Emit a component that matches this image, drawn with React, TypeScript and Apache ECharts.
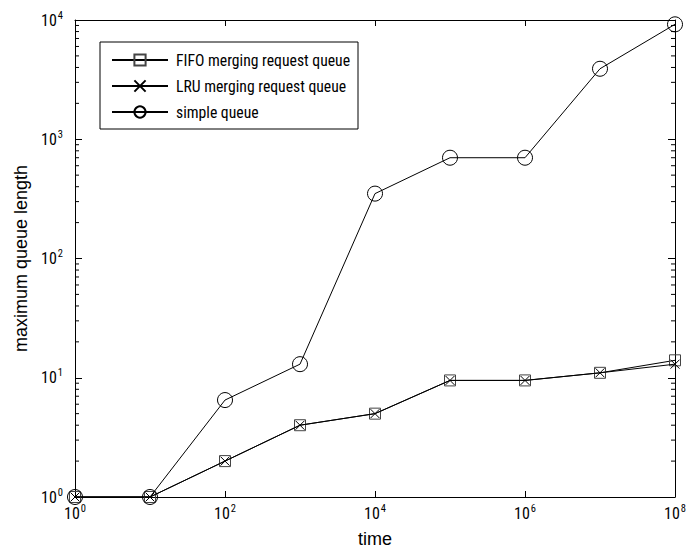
import React, { useEffect, useRef } from "react";
import * as echarts from "echarts";

const timePoints = [1, 10, 100, 1e3, 1e4, 1e5, 1e6, 1e7, 1e8];
const fifoQueue = [1, 1, 2, 4, 5, 9.5, 9.5, 11, 14];
const lruQueue = [1, 1, 2, 4, 5, 9.5, 9.5, 11, 13];
const simpleQueue = [1, 1, 6.5, 13, 350, 700, 700, 3900, 9200];
const seriesNames = ["FIFO merging request queue", "LRU merging request queue", "simple queue"];
const yMinorTicks: number[] = [];
for (let k = 0; k < 4; k++) for (let m = 2; m <= 9; m++) yMinorTicks.push(m * Math.pow(10, k));

const FONT = "'Roboto Condensed', 'Liberation Sans', Arial, sans-serif";
const NAME_FONT = "'Liberation Sans', Arial, sans-serif";

const supFormatter = (v: number) => {
  const e = Math.round(Math.log10(v));
  return `{b|10}{s|${e}}`;
};
const richSup = {
  b: { fontSize: 16, fontFamily: FONT, color: "#000" },
  s: { fontSize: 10.5, fontFamily: FONT, color: "#000", padding: [0, 0, 10, 1] },
};

export default function App() {
  const ref = useRef<HTMLDivElement>(null);
  useEffect(() => {
    const chart = echarts.init(ref.current!, undefined, { renderer: "svg" });
    const pairs = (arr: number[]) => arr.map((v, i) => [timePoints[i], v]);
    const lineStyle = { color: "#000", width: 1 };
    chart.setOption({
      animation: false,
      backgroundColor: "#fff",
      textStyle: { fontFamily: FONT },
      grid: { left: 75, right: 12, top: 20, bottom: 59 },
      legend: {
        data: seriesNames,
        orient: "vertical",
        left: 100,
        top: 42,
        padding: [8, 8, 7, 11],
        itemGap: 6,
        itemWidth: 56,
        itemHeight: 14,
        backgroundColor: "#fff",
        borderColor: "#000",
        borderWidth: 1,
        borderRadius: 0,
        textStyle: { fontSize: 15.7, lineHeight: 20, color: "#000", fontFamily: FONT, padding: [0, 0, 0, 3] },
      },
      xAxis: [
        {
          type: "log",
          logBase: 10,
          min: 1,
          max: 1e8,
          interval: 2,
          name: "time",
          nameLocation: "middle",
          nameGap: 33,
          nameTextStyle: { fontSize: 18, color: "#000", fontFamily: NAME_FONT },
          axisLine: { lineStyle: { color: "#000", width: 1 } },
          axisTick: { inside: true, length: 6, lineStyle: { color: "#000" } },
          axisLabel: { formatter: supFormatter, rich: richSup, margin: 6 },
          splitLine: { show: false },
        },
        {
          type: "log",
          logBase: 10,
          min: 1,
          max: 1e8,
          interval: 2,
          position: "top",
          axisLine: { lineStyle: { color: "#000", width: 1 } },
          axisTick: { inside: true, length: 6, lineStyle: { color: "#000" } },
          axisLabel: { show: false },
          splitLine: { show: false },
        },
      ],
      yAxis: [
        {
          type: "log",
          logBase: 10,
          min: 1,
          max: 1e4,
          interval: 1,
          name: "maximum queue length",
          nameLocation: "middle",
          nameGap: 44,
          nameTextStyle: { fontSize: 18, color: "#000", fontFamily: NAME_FONT },
          axisLine: { lineStyle: { color: "#000", width: 1 } },
          axisTick: { inside: true, length: 7, lineStyle: { color: "#000" } },
          axisLabel: { formatter: supFormatter, rich: richSup, margin: 12 },
          splitLine: { show: false },
        },
        {
          type: "log",
          logBase: 10,
          min: 1,
          max: 1e4,
          interval: 1,
          position: "right",
          axisLine: { lineStyle: { color: "#000", width: 1 } },
          axisTick: { inside: true, length: 7, lineStyle: { color: "#000" } },
          axisLabel: { show: false },
          splitLine: { show: false },
        },
      ],
      series: [
        {
          type: "custom",
          silent: true,
          clip: false,
          data: yMinorTicks.map((v) => [1, v]),
          renderItem: (_params: any, api: any) => {
            const v = api.value(1);
            const l = api.coord([1, v]);
            const r = api.coord([1e8, v]);
            return {
              type: "group",
              children: [
                { type: "line", shape: { x1: l[0], y1: l[1], x2: l[0] + 4, y2: l[1] }, style: { stroke: "#000", lineWidth: 1 } },
                { type: "line", shape: { x1: r[0], y1: r[1], x2: r[0] - 4, y2: r[1] }, style: { stroke: "#000", lineWidth: 1 } },
              ],
            };
          },
          z: 1,
        },
        {
          name: seriesNames[0],
          type: "line",
          data: pairs(fifoQueue),
          symbol: "rect",
          symbolSize: 11,
          lineStyle: { color: "#000", width: 1 },
          itemStyle: { color: "rgba(0,0,0,0)", borderColor: "#444", borderWidth: 1 },
          z: 3,
        },
        {
          name: seriesNames[1],
          type: "line",
          data: pairs(lruQueue),
          symbol: "path://M0,0L10,10M10,0L0,10",
          symbolSize: 9,
          lineStyle,
          itemStyle: { color: "rgba(0,0,0,0)", borderColor: "#000", borderWidth: 1 },
          z: 4,
        },
        {
          name: seriesNames[2],
          type: "line",
          data: pairs(simpleQueue),
          symbol: "circle",
          symbolSize: 15,
          lineStyle,
          itemStyle: { color: "rgba(0,0,0,0)", borderColor: "#000", borderWidth: 1 },
          z: 5,
        },
      ],
    });
    return () => chart.dispose();
  }, []);
  return <div ref={ref} style={{ position: "fixed", left: 0, top: 0, width: 689, height: 556 }} />;
}
